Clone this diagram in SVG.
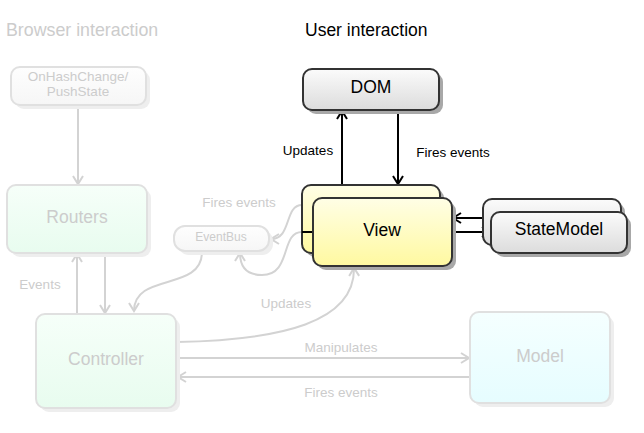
<svg xmlns="http://www.w3.org/2000/svg" width="644" height="433" viewBox="0 0 644 433">
<defs>
<linearGradient id="gGray" x1="0" y1="0" x2="0" y2="1"><stop offset="0" stop-color="#fbfbfb"/><stop offset="1" stop-color="#dcdcdc"/></linearGradient>
<linearGradient id="gYellow" x1="0" y1="0" x2="0" y2="1"><stop offset="0" stop-color="#fffee6"/><stop offset="1" stop-color="#fff9a0"/></linearGradient>
<linearGradient id="gGreen" x1="0" y1="0" x2="0" y2="1"><stop offset="0" stop-color="#f6fff9"/><stop offset="1" stop-color="#e8fcef"/></linearGradient>
<linearGradient id="gCyan" x1="0" y1="0" x2="0" y2="1"><stop offset="0" stop-color="#f5ffff"/><stop offset="1" stop-color="#e6fdff"/></linearGradient>
<linearGradient id="gFaint" x1="0" y1="0" x2="0" y2="1"><stop offset="0" stop-color="#fefefe"/><stop offset="1" stop-color="#f6f6f6"/></linearGradient>
<marker id="ag" viewBox="-10 -7 12 14" markerWidth="12" markerHeight="14" refX="0" refY="0" orient="auto" markerUnits="userSpaceOnUse">
<path d="M-8,-5 L0,0 L-8,5" fill="none" stroke="#d3d3d3" stroke-width="2"/>
</marker>
<marker id="ab" viewBox="-10 -7 12 14" markerWidth="12" markerHeight="14" refX="0" refY="0" orient="auto" markerUnits="userSpaceOnUse">
<path d="M-8,-5 L0,0 L-8,5" fill="none" stroke="#000" stroke-width="2"/>
</marker>
</defs>
<style>
.t{font-family:"Liberation Sans",Arial,sans-serif;text-anchor:middle}
.faded{fill:#cccccc}
.dark{fill:#000}
.big{font-size:17.5px}
.lbl{font-size:13.5px}
.fshadow{fill:#eeeeee}
.dshadow{fill:#a8a8a8}
.fbox{stroke:#e0e0e0;stroke-width:2}
.dbox{stroke:#333;stroke-width:2}
.gline{fill:none;stroke:#d3d3d3;stroke-width:2}
.bline{fill:none;stroke:#000;stroke-width:2}
</style>
<rect width="644" height="433" fill="#fff"/>
<text class="t faded" x="6" y="36" font-size="17.8" style="text-anchor:start">Browser interaction</text>
<text class="t dark" x="305" y="36" font-size="17.5" style="text-anchor:start">User interaction</text>

<g id="connectors">
<path class="gline" d="M78,106 L78,184" marker-end="url(#ag)"/>
<path class="gline" d="M77,314 L77,254" marker-end="url(#ag)"/>
<path class="gline" d="M105,254 L105,313" marker-end="url(#ag)"/>
<path class="gline" d="M202,252 C202,292 134,272 134,311" marker-end="url(#ag)"/>
<path class="gline" d="M302,205 C284,205 292,239 271,239" marker-end="url(#ag)"/>
<path class="gline" d="M302,232 C280,232 292,275 262,275 C246,275 240,266 240,253" marker-end="url(#ag)"/>
<path class="gline" d="M177,342 C282,340 355,322 354,268" marker-end="url(#ag)"/>
<path class="gline" d="M177,358 L469,358" marker-end="url(#ag)"/>
<path class="gline" d="M470,377 L178,377" marker-end="url(#ag)"/>
<path class="bline" d="M342,185 L342,111" marker-end="url(#ab)"/>
<path class="bline" d="M398,110 L398,184" marker-end="url(#ab)"/>
<path class="bline" d="M483,218 L453,218" marker-end="url(#ab)"/>
<path class="bline" d="M452,232 L490,232" marker-end="url(#ab)"/>
<text class="t dark lbl" x="308" y="155">Updates</text>
<text class="t dark lbl" x="453" y="157">Fires events</text>
<text class="t faded lbl" x="239" y="207">Fires events</text>
<text class="t faded lbl" x="40" y="289">Events</text>
<text class="t faded lbl" x="286" y="308">Updates</text>
<text class="t faded lbl" x="341" y="352">Manipulates</text>
<text class="t faded lbl" x="341" y="397">Fires events</text>
</g>

<g id="onhashchange">
<rect class="fshadow" x="15" y="71" width="135" height="38" rx="9"/>
<rect class="fbox" x="11" y="67" width="135" height="38" rx="9" fill="url(#gFaint)"/>
<text class="t faded" x="78" y="81" font-size="13.5">OnHashChange/</text>
<text class="t faded" x="78" y="96" font-size="13.5">PushState</text>
</g>

<g id="routers">
<rect class="fshadow" x="11" y="189" width="140" height="68" rx="9"/>
<rect class="fbox" x="7" y="185" width="140" height="68" rx="9" fill="url(#gGreen)"/>
<text class="t faded big" x="77" y="223">Routers</text>
</g>

<g id="controller">
<rect class="fshadow" x="40" y="318" width="140" height="94" rx="9"/>
<rect class="fbox" x="36" y="314" width="140" height="94" rx="9" fill="url(#gGreen)"/>
<text class="t faded big" x="106" y="365">Controller</text>
</g>

<g id="model">
<rect class="fshadow" x="474" y="316" width="140" height="91" rx="9"/>
<rect class="fbox" x="470" y="312" width="140" height="91" rx="9" fill="url(#gCyan)"/>
<text class="t faded big" x="540" y="362">Model</text>
</g>

<g id="eventbus">
<rect class="fshadow" x="178" y="230" width="95" height="25" rx="11"/>
<rect class="fbox" x="174" y="226" width="95" height="25" rx="11" fill="url(#gFaint)"/>
<text class="t faded" x="221" y="241" font-size="12">EventBus</text>
</g>

<g id="dom">
<rect class="dshadow" x="307" y="73" width="136" height="41" rx="9"/>
<rect class="dbox" x="303" y="69" width="136" height="41" rx="9" fill="url(#gGray)"/>
<text class="t dark big" x="371" y="93">DOM</text>
</g>

<g id="view">
<rect class="dshadow" x="306" y="189" width="138" height="68" rx="9"/>
<rect class="dbox" x="302" y="185" width="138" height="68" rx="9" fill="url(#gYellow)"/>
<path class="bline" d="M302,232 L313,232"/>
<rect class="dshadow" x="317" y="202" width="139" height="68" rx="9"/>
<rect class="dbox" x="313" y="198" width="139" height="68" rx="9" fill="url(#gYellow)"/>
<text class="t dark big" x="382" y="236">View</text>
</g>

<g id="statemodel">
<rect class="dshadow" x="487" y="203" width="138" height="46" rx="9"/>
<rect class="dbox" x="483" y="199" width="138" height="46" rx="9" fill="url(#gGray)"/>
<rect class="dshadow" x="495" y="216" width="136" height="41" rx="9"/>
<rect class="dbox" x="491" y="212" width="136" height="41" rx="9" fill="url(#gGray)"/>
<text class="t dark big" x="559" y="235">StateModel</text>
</g>
</svg>
